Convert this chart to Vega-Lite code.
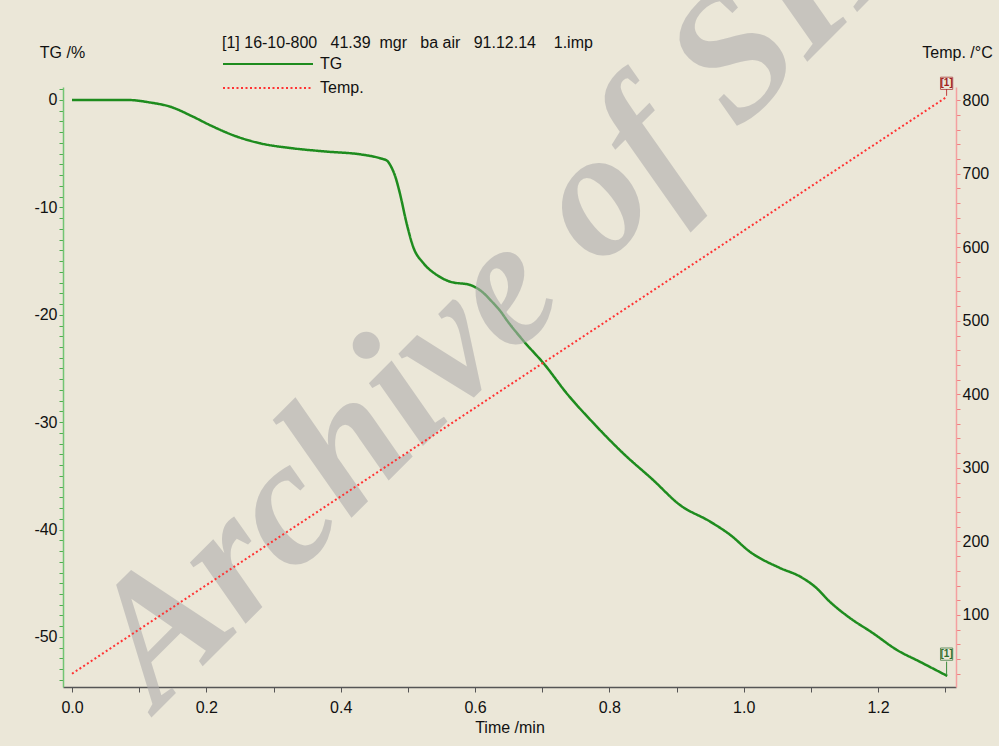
{
  "$schema": "https://vega.github.io/schema/vega-lite/v6.json",
  "width": 893,
  "height": 600,
  "autosize": {"type": "none"},
  "padding": {"left": 63, "top": 87, "right": 43, "bottom": 59},
  "background": "#EBE7D8",
  "config": {
    "view": {"stroke": null},
    "font": "Liberation Sans",
    "axis": {
      "labelFont": "Liberation Sans",
      "labelFontSize": 16,
      "labelColor": "#111111",
      "titleFont": "Liberation Sans",
      "titleFontSize": 16,
      "titleFontWeight": "normal",
      "titleColor": "#111111",
      "grid": false,
      "labelFlush": false,
      "labelOverlap": false
    }
  },
  "datasets": {
    "tg": [
      {"time": 0.0, "tg": 0.0, "series": "TG"},
      {"time": 0.083, "tg": 0.0, "series": "TG"},
      {"time": 0.116, "tg": -0.23, "series": "TG"},
      {"time": 0.146, "tg": -0.62, "series": "TG"},
      {"time": 0.18, "tg": -1.55, "series": "TG"},
      {"time": 0.205, "tg": -2.33, "series": "TG"},
      {"time": 0.246, "tg": -3.42, "series": "TG"},
      {"time": 0.28, "tg": -4.03, "series": "TG"},
      {"time": 0.329, "tg": -4.5, "series": "TG"},
      {"time": 0.38, "tg": -4.81, "series": "TG"},
      {"time": 0.429, "tg": -5.06, "series": "TG"},
      {"time": 0.459, "tg": -5.43, "series": "TG"},
      {"time": 0.469, "tg": -5.65, "series": "TG"},
      {"time": 0.475, "tg": -6.2, "series": "TG"},
      {"time": 0.481, "tg": -7.08, "series": "TG"},
      {"time": 0.488, "tg": -8.66, "series": "TG"},
      {"time": 0.498, "tg": -11.45, "series": "TG"},
      {"time": 0.508, "tg": -13.69, "series": "TG"},
      {"time": 0.523, "tg": -15.18, "series": "TG"},
      {"time": 0.543, "tg": -16.29, "series": "TG"},
      {"time": 0.563, "tg": -16.92, "series": "TG"},
      {"time": 0.593, "tg": -17.23, "series": "TG"},
      {"time": 0.607, "tg": -17.69, "series": "TG"},
      {"time": 0.627, "tg": -18.9, "series": "TG"},
      {"time": 0.637, "tg": -19.6, "series": "TG"},
      {"time": 0.647, "tg": -20.48, "series": "TG"},
      {"time": 0.671, "tg": -22.35, "series": "TG"},
      {"time": 0.704, "tg": -24.67, "series": "TG"},
      {"time": 0.736, "tg": -27.28, "series": "TG"},
      {"time": 0.776, "tg": -30.07, "series": "TG"},
      {"time": 0.82, "tg": -32.87, "series": "TG"},
      {"time": 0.865, "tg": -35.38, "series": "TG"},
      {"time": 0.905, "tg": -37.71, "series": "TG"},
      {"time": 0.95, "tg": -39.26, "series": "TG"},
      {"time": 0.98, "tg": -40.5, "series": "TG"},
      {"time": 1.009, "tg": -42.06, "series": "TG"},
      {"time": 1.054, "tg": -43.58, "series": "TG"},
      {"time": 1.084, "tg": -44.38, "series": "TG"},
      {"time": 1.106, "tg": -45.32, "series": "TG"},
      {"time": 1.128, "tg": -46.71, "series": "TG"},
      {"time": 1.158, "tg": -48.23, "series": "TG"},
      {"time": 1.192, "tg": -49.63, "series": "TG"},
      {"time": 1.228, "tg": -51.21, "series": "TG"},
      {"time": 1.262, "tg": -52.3, "series": "TG"},
      {"time": 1.303, "tg": -53.63, "series": "TG"}
    ],
    "temp": [
      {"time": 0.0, "temp": 20, "series": "Temp."},
      {"time": 0.637, "temp": 404, "series": "Temp."},
      {"time": 1.303, "temp": 805, "series": "Temp."}
    ],
    "tgmark": [{"time": 1.302, "tg": -51.6, "tgEnd": -53.5, "tgBox": -52.3, "label": "[1]"}],
    "tempmark": [{"time": 1.302, "temp": 823, "tempEnd": 806, "tempBox": 815, "label": "[1]"}],
    "wm": [{"time": 0.128, "tg": -56.9, "label": "Archive of SID"}]
  },
  "layer": [
    {
      "layer": [
        {
          "data": {"name": "tg"},
          "mark": {"type": "line", "strokeWidth": 2.5, "interpolate": "monotone"},
          "encoding": {
            "x": {
              "field": "time",
              "type": "quantitative",
              "title": "Time /min",
              "scale": {"domain": [-0.0134, 1.316], "nice": false, "zero": false},
              "axis": {
                "values": [0, 0.1, 0.2, 0.3, 0.4, 0.5, 0.6, 0.7, 0.8, 0.9, 1.0, 1.1, 1.2, 1.3],
                "tickCount": 500,
                "labelExpr": "round(datum.value * 10) % 2 === 0 ? format(datum.value, '.1f') : ''",
                "labelOverlap": false,
                "domainColor": "#555555",
                "domainWidth": 1.5,
                "tickColor": "#555555",
                "tickSize": 5,
                "labelPadding": 7,
                "titlePadding": 4
              }
            },
            "y": {
              "field": "tg",
              "type": "quantitative",
              "title": "TG /%",
              "scale": {"domain": [-54.66, 1.21], "nice": false, "zero": false},
              "axis": {
                "orient": "left",
                "values": [-54, -53, -52, -51, -50, -49, -48, -47, -46, -45, -44, -43, -42, -41, -40, -39, -38, -37, -36, -35, -34, -33, -32, -31, -30, -29, -28, -27, -26, -25, -24, -23, -22, -21, -20, -19, -18, -17, -16, -15, -14, -13, -12, -11, -10, -9, -8, -7, -6, -5, -4, -3, -2, -1, 0, 1],
                "tickCount": 500,
                "labelExpr": "datum.value % 10 === 0 ? '' + datum.value : ''",
                "labelOverlap": false,
                "domainColor": "#72C472",
                "domainWidth": 1.5,
                "tickColor": "#4FAE4F",
                "tickSize": 4,
                "tickWidth": 1,
                "labelPadding": 2,
                "titleAngle": 0,
                "titleX": -1,
                "titleY": -35,
                "titleAlign": "center",
                "titleBaseline": "middle"
              }
            },
            "color": {
              "field": "series",
              "type": "nominal",
              "scale": {"domain": ["TG", "Temp."], "range": ["#1E8C1E", "#FF3333"]},
              "legend": {
                "orient": "none",
                "legendX": 159,
                "legendY": -52,
                "title": "[1] 16-10-800\u00a0\u00a0\u00a041.39\u00a0\u00a0mgr\u00a0\u00a0\u00a0ba\u00a0air\u00a0\u00a0\u00a091.12.14\u00a0\u00a0\u00a0\u00a01.imp",
                "titleFont": "Liberation Sans",
                "titleFontSize": 16,
                "titleFontWeight": "normal",
                "titleColor": "#111111",
                "titlePadding": 5,
                "titleLimit": 700,
                "symbolType": "stroke",
                "symbolSize": 8100,
                "symbolStrokeWidth": 2,
                "clipHeight": 16,
                "labelFont": "Liberation Sans",
                "labelFontSize": 16,
                "labelColor": "#111111",
                "labelOffset": 6,
                "rowPadding": 8,
                "padding": 0
              }
            },
            "strokeDash": {
              "field": "series",
              "type": "nominal",
              "scale": {"domain": ["TG", "Temp."], "range": [[1, 0], [2, 2.5]]},
              "legend": {
                "orient": "none",
                "legendX": 159,
                "legendY": -52,
                "title": "[1] 16-10-800\u00a0\u00a0\u00a041.39\u00a0\u00a0mgr\u00a0\u00a0\u00a0ba\u00a0air\u00a0\u00a0\u00a091.12.14\u00a0\u00a0\u00a0\u00a01.imp",
                "titleFont": "Liberation Sans",
                "titleFontSize": 16,
                "titleFontWeight": "normal",
                "titleColor": "#111111",
                "titlePadding": 5,
                "titleLimit": 700,
                "symbolType": "stroke",
                "symbolSize": 8100,
                "symbolStrokeWidth": 2,
                "clipHeight": 16,
                "labelFont": "Liberation Sans",
                "labelFontSize": 16,
                "labelColor": "#111111",
                "labelOffset": 6,
                "rowPadding": 8,
                "padding": 0
              }
            }
          }
        },
        {
          "data": {"name": "tgmark"},
          "mark": {"type": "rule", "color": "#3C8C3C", "strokeWidth": 1},
          "encoding": {
            "x": {"field": "time", "type": "quantitative", "title": "Time /min"},
            "y": {"field": "tgBox", "type": "quantitative", "title": "TG /%"},
            "y2": {"field": "tgEnd"}
          }
        },
        {
          "data": {"name": "tgmark"},
          "mark": {"type": "point", "shape": "square", "filled": false, "size": 150, "color": "#2F6F2F", "strokeWidth": 1},
          "encoding": {
            "x": {"field": "time", "type": "quantitative", "title": "Time /min"},
            "y": {"field": "tg", "type": "quantitative", "title": "TG /%"}
          }
        },
        {
          "data": {"name": "tgmark"},
          "mark": {"type": "text", "fontSize": 10, "fontWeight": "bold", "color": "#2F6F2F", "align": "center", "baseline": "middle"},
          "encoding": {
            "x": {"field": "time", "type": "quantitative", "title": "Time /min"},
            "y": {"field": "tg", "type": "quantitative", "title": "TG /%"},
            "text": {"field": "label"}
          }
        },
        {
          "data": {"name": "wm"},
          "mark": {"type": "text", "font": "Liberation Serif", "fontSize": 180, "fontWeight": "bold", "fontStyle": "italic", "color": "#B0AEAE", "opacity": 0.6, "align": "left", "baseline": "alphabetic", "angle": -45},
          "encoding": {
            "x": {"field": "time", "type": "quantitative", "title": "Time /min"},
            "y": {"field": "tg", "type": "quantitative", "title": "TG /%"},
            "text": {"field": "label"}
          }
        }
      ]
    },
    {
      "layer": [
        {
          "data": {"name": "temp"},
          "mark": {"type": "line", "strokeWidth": 2},
          "encoding": {
            "x": {"field": "time", "type": "quantitative", "title": "Time /min"},
            "y": {
              "field": "temp",
              "type": "quantitative",
              "title": "Temp. /°C",
              "scale": {"domain": [2, 818], "nice": false, "zero": false},
              "axis": {
                "orient": "right",
                "values": [20, 40, 60, 80, 100, 120, 140, 160, 180, 200, 220, 240, 260, 280, 300, 320, 340, 360, 380, 400, 420, 440, 460, 480, 500, 520, 540, 560, 580, 600, 620, 640, 660, 680, 700, 720, 740, 760, 780, 800],
                "tickCount": 500,
                "labelExpr": "datum.value % 100 === 0 ? '' + datum.value : ''",
                "labelOverlap": false,
                "domainColor": "#F4A0A0",
                "domainWidth": 1.5,
                "tickColor": "#F08080",
                "tickSize": 4,
                "tickWidth": 1,
                "labelPadding": 2,
                "titleAngle": 0,
                "titleX": 1,
                "titleY": -35,
                "titleAlign": "center",
                "titleBaseline": "middle"
              }
            },
            "color": {"field": "series", "type": "nominal"},
            "strokeDash": {"field": "series", "type": "nominal"}
          }
        },
        {
          "data": {"name": "tempmark"},
          "mark": {"type": "rule", "color": "#C04040", "strokeWidth": 1},
          "encoding": {
            "x": {"field": "time", "type": "quantitative", "title": "Time /min"},
            "y": {"field": "tempBox", "type": "quantitative", "title": "Temp. /°C"},
            "y2": {"field": "tempEnd"}
          }
        },
        {
          "data": {"name": "tempmark"},
          "mark": {"type": "point", "shape": "square", "filled": false, "size": 150, "color": "#A02020", "strokeWidth": 1},
          "encoding": {
            "x": {"field": "time", "type": "quantitative", "title": "Time /min"},
            "y": {"field": "temp", "type": "quantitative", "title": "Temp. /°C"}
          }
        },
        {
          "data": {"name": "tempmark"},
          "mark": {"type": "text", "fontSize": 10, "fontWeight": "bold", "color": "#A02020", "align": "center", "baseline": "middle"},
          "encoding": {
            "x": {"field": "time", "type": "quantitative", "title": "Time /min"},
            "y": {"field": "temp", "type": "quantitative", "title": "Temp. /°C"},
            "text": {"field": "label"}
          }
        }
      ]
    }
  ],
  "resolve": {"scale": {"y": "independent"}, "axis": {"y": "independent"}}
}
